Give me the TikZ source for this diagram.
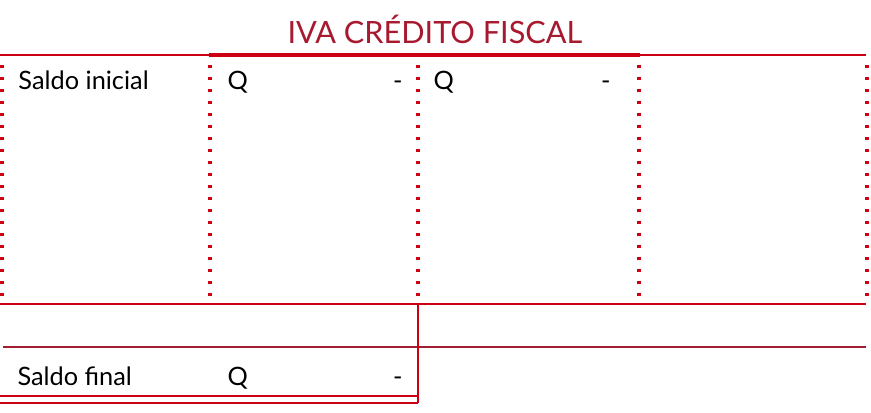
\documentclass[tikz,border=0pt]{standalone}
\usepackage{fontspec}
\setmainfont{Lato}
\definecolor{cuentaRed}{RGB}{204,0,18}
\definecolor{tituloRed}{RGB}{166,25,46}
\definecolor{lineaMaroon}{RGB}{160,30,50}
\tikzset{every picture/.style={line width=0.75pt}}
\tikzset{
  regla/.style={draw=cuentaRed, line width=1.6pt},
  reglaGruesa/.style={draw=cuentaRed, line width=3.2pt},
  puntos/.style={draw=cuentaRed, line width=2.3pt, dash pattern=on 2.2pt off 6.8pt},
  texto/.style={anchor=base west, inner sep=0pt, font=\fontsize{19}{22}\selectfont},
  guion/.style={anchor=base east, inner sep=0pt, font=\fontsize{19}{22}\selectfont}
}

\begin{document}
\begin{tikzpicture}[x=0.75pt,y=0.75pt,yscale=-1,xscale=1]
	\useasboundingbox (0,0) rectangle (871,412);
	
	% Text Node
	\node [anchor=base, inner sep=0pt, text=tituloRed, font=\fontsize{23}{26}\selectfont] (titulo) at (435,43) {IVA CRÉDITO FISCAL};
	
	%Straight Lines
	\draw [regla] (0,55) -- (866,55) ;
	\draw [reglaGruesa] (209,55) -- (640,55) ;
	
	%Dotted Lines
	\foreach \xcol in {2,210,418,639,867}{
		\draw [puntos] (\xcol,65) -- (\xcol,300) ;
	}
	
	%Straight Lines
	\draw [regla] (0,304) -- (866,304) ;
	\draw [regla, draw=lineaMaroon] (3,347) -- (866,347) ;
	\draw [regla] (418,304) -- (418,403) ;
	\draw [regla] (0,396) -- (418,396) ;
	\draw [regla] (0,403) -- (418,403) ;
	
	% Text Node
	\node [texto] (saldoIni) at (18,89) {Saldo inicial};
	\node [texto] (qDebe) at (227,89) {Q};
	\node [guion] (gDebe) at (403,89) {-};
	\node [texto] (qHaber) at (433,89) {Q};
	\node [guion] (gHaber) at (611,89) {-};
	
	% Text Node
	\node [texto] (saldoFin) at (17,385) {Saldo final};
	\node [texto] (qFinal) at (227,385) {Q};
	\node [guion] (gFinal) at (403,385) {-};
	
\end{tikzpicture}
\end{document}
